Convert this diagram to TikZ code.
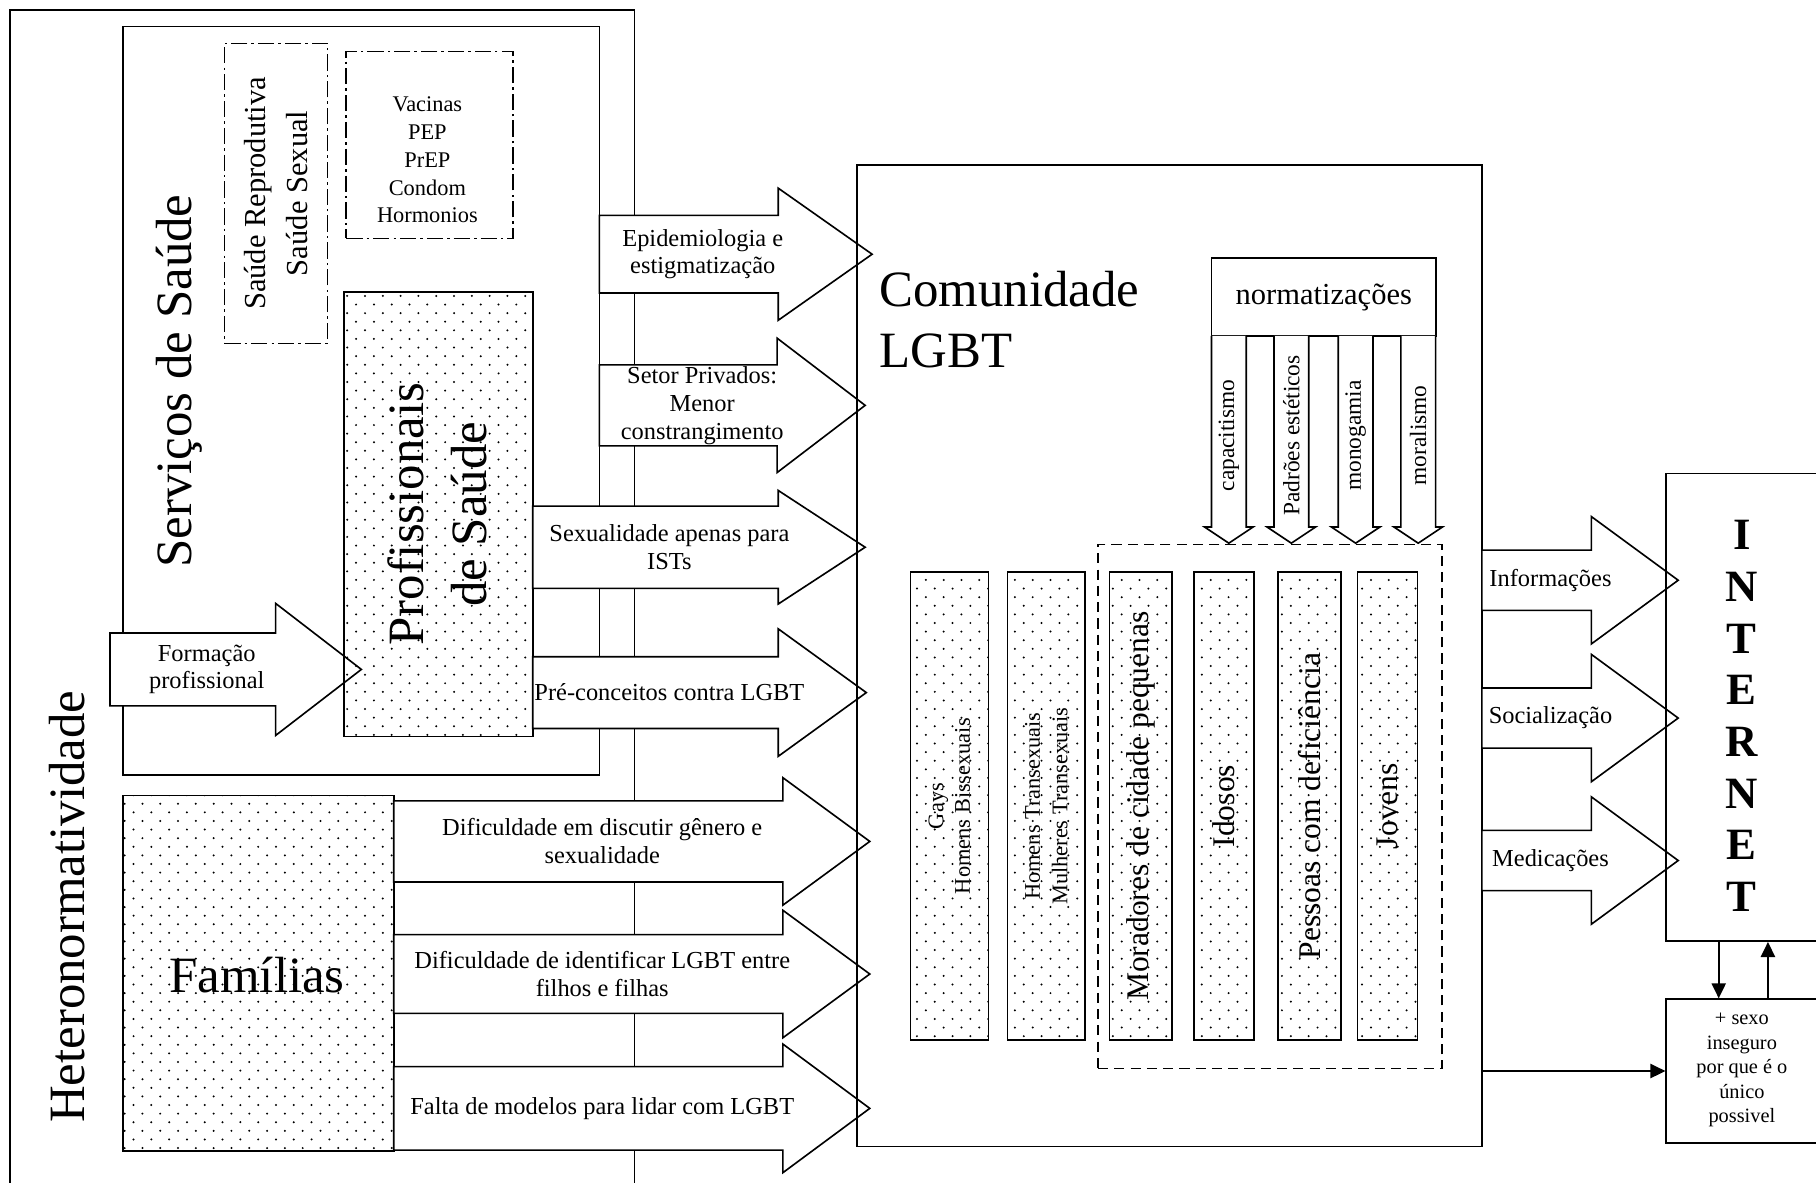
\documentclass[tikz,border=0pt]{standalone}
\usepackage{fontspec}
\setmainfont{Liberation Serif}
\usepackage{tikz}
\usetikzlibrary{fit,patterns,arrows.meta}

\pgfdeclarepatternformonly{pontos}{\pgfqpoint{-1pt}{-1pt}}{\pgfqpoint{5.5pt}{5.5pt}}{\pgfqpoint{8.75pt}{8.46pt}}{%
	\pgfpathcircle{\pgfqpoint{0pt}{0pt}}{0.55pt}%
	\pgfpathcircle{\pgfqpoint{4.375pt}{4.23pt}}{0.55pt}%
	\pgfusepath{fill}%
}

\tikzset{
	caixa/.style={draw,line width=0.8pt,inner sep=0pt},
	pontilhada/.style={caixa,pattern=pontos},
	tracoponto/.style={caixa,dash pattern=on 8pt off 2pt on 1.2pt off 2pt},
	tracejada/.style={caixa,dash pattern=on 5pt off 3pt},
	seta/.style={line width=0.8pt,fill=white},
	fina/.style={line width=0.8pt,-{Triangle[length=7.4pt,width=7pt]}},
	rotulo/.style={font=\fontsize{12}{13.7}\selectfont,align=center,inner sep=0pt},
	titulo/.style={font=\fontsize{25}{31}\selectfont,align=center,inner sep=0pt},
	vertical/.style={rotate=90,align=center,inner sep=0pt},
}

\newcommand{\setabloco}[8]{%
	\filldraw[seta] (#2,#5-#6) -- (#3,#5-#6) -- (#3,#5-#7) -- (#4,#5) -- (#3,#5+#7) -- (#3,#5+#6) -- (#2,#5+#6) -- cycle;
	\node[rotulo] (#1) at ({(#2+#3)/2+12},#5) {#8};}

\newcommand{\setanorma}[3]{%
	\filldraw[seta] (#2-15,290) -- (#2-15,455) -- (#2-21,455) -- (#2,469) -- (#2+21,455) -- (#2+15,455) -- (#2+15,290);
	\node[vertical,font=\fontsize{11.5}{13}\selectfont] (#1) at (#2,376) {#3};}

\begin{document}
\begin{tikzpicture}[x=0.02cm,y=-0.02cm]
	\useasboundingbox (0,0) rectangle (1568,1021);
	\draw[line width=0.8pt] (8.6,1040) -- (8.6,8.6) -- (548,8.6) -- (548,1040);
	\node[titulo,rotate=90] (hetero) at (58,783) {Heteronormatividade};
	\node[caixa,fit={(106,23) (517.5,669)}] (servicos) {};
	\node[titulo,rotate=90] (servicostexto) at (155,329) {Serviços de Saúde};
	\node[tracoponto,fit={(193.7,37.4) (282.8,296.5)}] (saudesex) {};
	\node[vertical,font=\fontsize{15}{20.5}\selectfont] (saudesextexto) at (saudesex) {Saúde Reprodutiva\\Saúde Sexual};
	\node[tracoponto,fit={(299,44.6) (443.2,205.8)}] (vacinas) {};
	\node[font=\fontsize{11}{13.7}\selectfont,align=center,inner sep=0pt] (vacinastexto) at (369,138) {Vacinas\\PEP\\PrEP\\Condom\\Hormonios};

	\setabloco{formacao}{95}{238}{312}{578}{31.5}{57}{Formação\\profissional}
	\node[pontilhada,fit={(297,252) (460,636)}] (profs) {};
	\node[titulo,rotate=90] (profstexto) at (378,444) {Profissionais\\de Saúde};
	\node[pontilhada,fit={(106,687) (340,994)}] (familias) {};
	\node[titulo] (familiastexto) at (222,842) {Famílias};

	\setabloco{epidemio}{517.5}{672}{753}{219.5}{33.5}{57}{Epidemiologia e\\estigmatização}
	\setabloco{setor}{517.5}{671}{747}{350}{35}{58}{Setor Privados:\\Menor\\constrangimento}
	\setabloco{sexualidade}{460}{672}{747}{472.5}{35.5}{49}{Sexualidade apenas para\\ISTs}
	\setabloco{preconceito}{460}{672}{748}{598}{31}{55}{Pré-conceitos contra LGBT}
	\setabloco{discutir}{340}{676}{751}{726.5}{35}{55}{Dificuldade em discutir gênero e\\sexualidade}
	\setabloco{identificar}{340}{676}{751}{841}{34}{55}{Dificuldade de identificar LGBT entre\\filhos e filhas}
	\setabloco{modelos}{340}{676}{751}{957}{36}{55.5}{Falta de modelos para lidar com LGBT}

	\node[caixa,fit={(740,142.5) (1279.5,990)}] (comunidade) {};
	\node[font=\fontsize{25}{30}\selectfont,align=left,anchor=north west,inner sep=0pt] (comunidadetexto) at (759,234) {Comunidade\\LGBT};

	\node[caixa,fit={(1046,223) (1240,290)}] (normas) {};
	\node[font=\fontsize{15}{18}\selectfont,inner sep=0pt] (normastexto) at (normas) {normatizações};
	\setanorma{capacitismo}{1061}{capacitismo}
	\setanorma{padroes}{1115}{Padrões estéticos}
	\setanorma{monogamia}{1170.5}{monogamia}
	\setanorma{moralismo}{1224.5}{moralismo}
	\node[tracejada,fit={(948,470) (1245,922.5)}] (grupo) {};

	\node[pontilhada,fit={(786,494) (853.5,898)}] (gays) {};
	\node[vertical,font=\fontsize{11}{13}\selectfont] (gaystexto) at (gays) {Gays\\Homens Bissexuais};
	\node[pontilhada,fit={(870,494) (937,898)}] (trans) {};
	\node[vertical,font=\fontsize{11}{13.5}\selectfont] (transtexto) at (trans) {Homens Transexuais\\Mulheres Transexuais};
	\node[pontilhada,fit={(958,494) (1012,898)}] (moradores) {};
	\node[vertical,font=\fontsize{15.5}{18}\selectfont] (moradorestexto) at (moradores) {Moradores de cidade pequenas};
	\node[pontilhada,fit={(1031,494) (1082.6,898)}] (idosos) {};
	\node[vertical,font=\fontsize{15.5}{18}\selectfont] (idosostexto) at (idosos) {Idosos};
	\node[pontilhada,fit={(1103.4,494) (1157.7,898)}] (deficiencia) {};
	\node[vertical,font=\fontsize{15.5}{18}\selectfont] (deficienciatexto) at (deficiencia) {Pessoas com deficiência};
	\node[pontilhada,fit={(1172,494) (1224,898)}] (jovens) {};
	\node[vertical,font=\fontsize{15.5}{18}\selectfont] (jovenstexto) at (jovens) {Jovens};

	\setabloco{info}{1279.5}{1374}{1449}{501}{26}{55}{Informações}
	\setabloco{social}{1279.5}{1374}{1449}{620}{26}{55}{Socialização}
	\setabloco{medic}{1279.5}{1374}{1449}{743}{26}{55}{Medicações}

	\node[caixa,fit={(1438.7,408.7) (1580,812.6)}] (internet) {};
	\foreach \letra [count=\i] in {I,N,T,E,R,N,E,T}
		\node[font=\fontsize{22}{22}\selectfont\bfseries,inner sep=0pt] (letra\i) at (1504,{462+44.6*(\i-1)}) {\letra};
	\node[caixa,fit={(1438.7,862.7) (1580,986.8)}] (sexo) {};
	\node[font=\fontsize{10}{12}\selectfont,align=center,inner sep=0pt] (sexotexto) at (1504,924) {+ sexo\\inseguro\\por que é o\\único\\possivel};

	\coordinate (desce) at (1484,0);
	\coordinate (sobe) at (1526.5,0);
	\draw[fina] (desce |- internet.south) -- (desce |- sexo.north);
	\draw[fina] (sobe |- sexo.north) -- (sobe |- internet.south);
	\draw[fina] (comunidade.east |- sexo.west) -- (sexo.west);
\end{tikzpicture}
\end{document}
